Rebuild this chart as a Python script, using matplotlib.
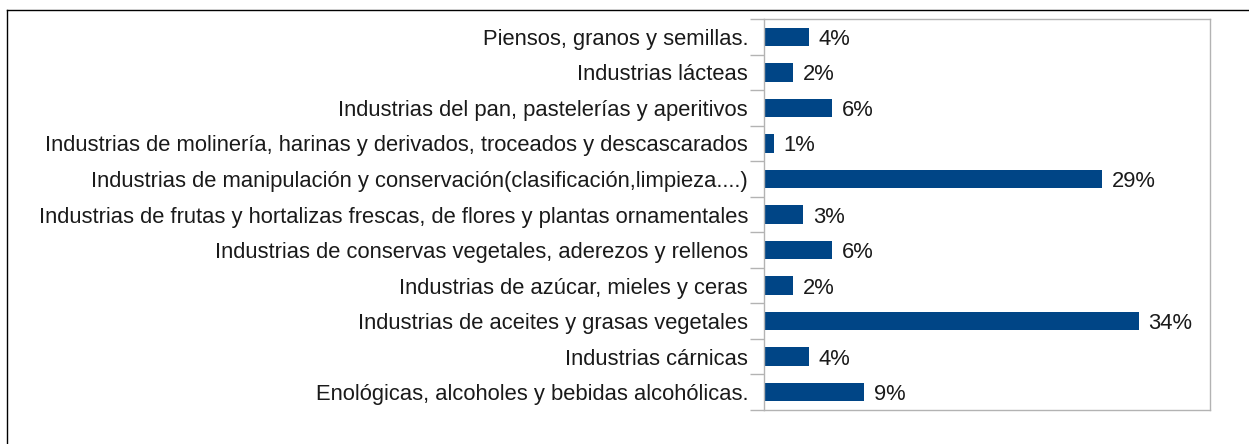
import matplotlib
matplotlib.use('Agg')
import matplotlib.pyplot as plt
from matplotlib.lines import Line2D

plt.rcParams['font.family'] = ['Liberation Sans', 'DejaVu Sans']

# datos (de arriba a abajo)
categorias = [
    'Piensos, granos y semillas.',
    'Industrias lácteas',
    'Industrias del pan, pastelerías y aperitivos',
    'Industrias de molinería, harinas y derivados, troceados y descascarados',
    'Industrias de manipulación y conservación(clasificación,limpieza....)',
    'Industrias de frutas y hortalizas frescas, de flores y plantas ornamentales',
    'Industrias de conservas vegetales, aderezos y rellenos',
    'Industrias de azúcar, mieles y ceras',
    'Industrias de aceites y grasas vegetales',
    'Industrias cárnicas',
    'Enológicas, alcoholes y bebidas alcohólicas.',
]
valores = [4.0, 2.6, 6.1, 0.9, 30.3, 3.5, 6.1, 2.6, 33.6, 4.0, 9.0]
etiquetas = ['4%', '2%', '6%', '1%', '29%', '3%', '6%', '2%', '34%', '4%', '9%']

azul = '#004586'
gris = '#b3b3b3'
tam = 15.8

fig = plt.figure(figsize=(12.49, 4.44), dpi=100)
ax = fig.add_axes([764 / 1249, 1 - 410 / 444, 446 / 1249, 391 / 444])

pos = list(range(len(categorias)))
ax.barh(pos, valores, height=0.52, color=azul)
ax.set_xlim(0, 40)
ax.set_ylim(len(categorias) - 0.5, -0.5)

for p, v, t in zip(pos, valores, etiquetas):
    ax.annotate(t, (v, p), xytext=(7, 0), textcoords='offset points',
                va='center_baseline', ha='left', fontsize=tam, color='#1a1a1a')

ax.set_yticks(pos)
ax.set_yticklabels(categorias, fontsize=tam, color='#1a1a1a', va='center_baseline')
ax.tick_params(axis='y', length=0, pad=11.5)
# marcas entre categorias
ax.set_yticks([p - 0.5 for p in pos] + [len(pos) - 0.5], minor=True)
ax.tick_params(axis='y', which='minor', length=10, color=gris, width=1)
ax.set_xticks([])

for s in ax.spines.values():
    s.set_color(gris)
    s.set_linewidth(1)

# borde del marco
fig.add_artist(Line2D([7 / 1249, 1], [1 - 10 / 444, 1 - 10 / 444], color='black', lw=1,
                      transform=fig.transFigure))
fig.add_artist(Line2D([7 / 1249, 7 / 1249], [0, 1 - 10 / 444], color='black', lw=1,
                      transform=fig.transFigure))

fig.savefig('out.png', dpi=100)
